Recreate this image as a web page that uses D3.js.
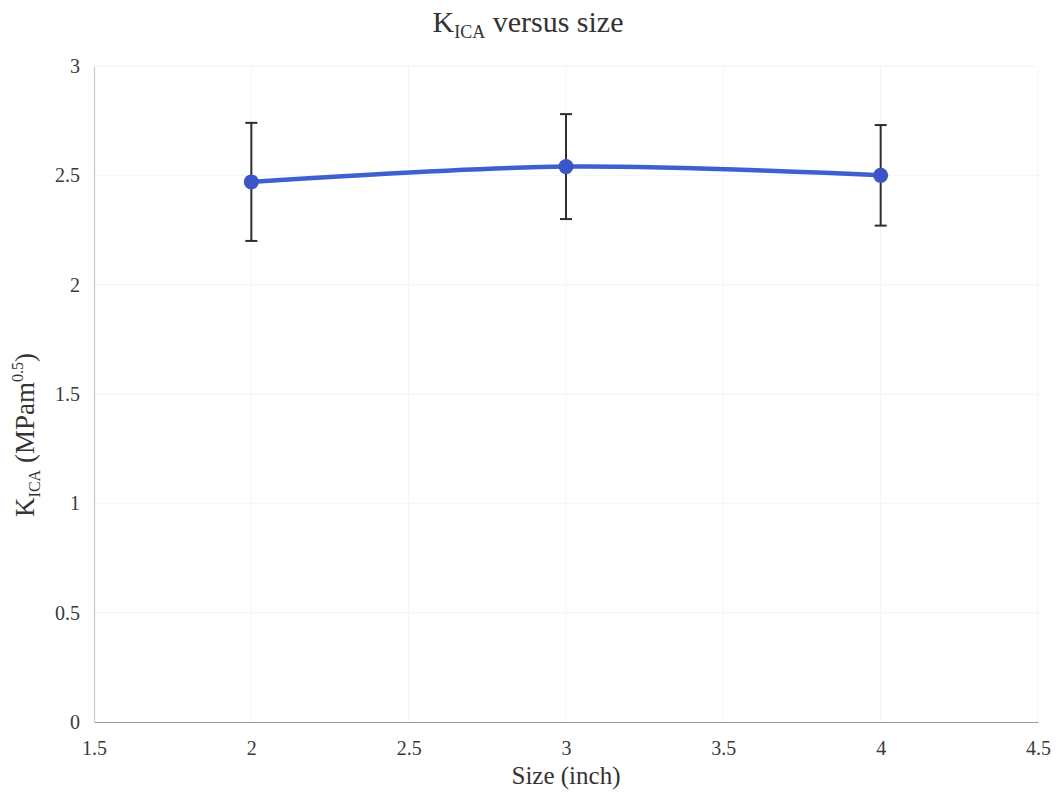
<!DOCTYPE html>
<html>
<head>
<meta charset="utf-8">
<script src="https://cdn.jsdelivr.net/npm/d3@7"></script>
<style>
  html, body { margin: 0; padding: 0; background: #fff; }
  svg { display: block; }
  svg text { font-family: "Liberation Serif", "DejaVu Serif", serif !important; }
</style>
</head>
<body>
<svg id="chart" width="1063" height="798"></svg>
<script>
// Specimen size (inch) and mean apparent fracture toughness with spread
const sizes = [2, 3, 4];
const kMean = [2.47, 2.54, 2.50];
const kErr = [0.27, 0.24, 0.23];
const xTicks = [1.5, 2, 2.5, 3, 3.5, 4, 4.5];
const yTicks = [0, 0.5, 1, 1.5, 2, 2.5, 3];

const svg = d3.select("#chart");
const plot = { left: 94, right: 1038, top: 66, bottom: 722 };

const x = d3.scaleLinear().domain([1.5, 4.5]).range([plot.left, plot.right]);
const y = d3.scaleLinear().domain([0, 3]).range([plot.bottom, plot.top]);

// faint gridlines
svg.append("g")
  .selectAll("line")
  .data(xTicks.slice(1))
  .join("line")
  .attr("x1", d => x(d)).attr("x2", d => x(d))
  .attr("y1", plot.top).attr("y2", plot.bottom)
  .attr("stroke", "#f3f4f7").attr("stroke-width", 1);
svg.append("g")
  .selectAll("line")
  .data(yTicks.slice(1))
  .join("line")
  .attr("x1", plot.left).attr("x2", plot.right)
  .attr("y1", d => y(d)).attr("y2", d => y(d))
  .attr("stroke", "#f3f4f7").attr("stroke-width", 1);

// axes
const xAxis = d3.axisBottom(x).tickValues(xTicks).tickSize(0).tickPadding(19)
  .tickFormat(d3.format("~g"));
const yAxis = d3.axisLeft(y).tickValues(yTicks).tickSize(0).tickPadding(14)
  .tickFormat(d3.format("~g"));

const gx = svg.append("g").attr("transform", `translate(0,${plot.bottom})`).call(xAxis);
gx.select(".domain").attr("stroke", "#9a9a9a").attr("stroke-width", 1.2);
gx.selectAll("text").attr("font-size", 20).attr("fill", "#3a3a3a");

const gy = svg.append("g").attr("transform", `translate(${plot.left},0)`).call(yAxis);
gy.select(".domain").attr("stroke", "#c3cad6").attr("stroke-width", 1.2);
gy.selectAll("text").attr("font-size", 20).attr("fill", "#3a3a3a");

// error bars
const pts = sizes.map((s, i) => ({ s, m: kMean[i], e: kErr[i] }));
const eb = svg.append("g").attr("stroke", "#2e2e2e").attr("stroke-width", 2);
eb.selectAll("line.bar").data(pts).join("line").attr("class", "bar")
  .attr("x1", d => x(d.s)).attr("x2", d => x(d.s))
  .attr("y1", d => y(d.m + d.e)).attr("y2", d => y(d.m - d.e));
eb.selectAll("line.capT").data(pts).join("line").attr("class", "capT")
  .attr("x1", d => x(d.s) - 6).attr("x2", d => x(d.s) + 6)
  .attr("y1", d => y(d.m + d.e)).attr("y2", d => y(d.m + d.e));
eb.selectAll("line.capB").data(pts).join("line").attr("class", "capB")
  .attr("x1", d => x(d.s) - 6).attr("x2", d => x(d.s) + 6)
  .attr("y1", d => y(d.m - d.e)).attr("y2", d => y(d.m - d.e));

// smoothed series line
const line = d3.line().x(d => x(d.s)).y(d => y(d.m)).curve(d3.curveCatmullRom.alpha(0.5));
svg.append("path").datum(pts)
  .attr("d", line)
  .attr("fill", "none")
  .attr("stroke", "#3f5fcf")
  .attr("stroke-width", 4.5);

svg.append("g").selectAll("circle").data(pts).join("circle")
  .attr("cx", d => x(d.s)).attr("cy", d => y(d.m)).attr("r", 7.5)
  .attr("fill", "#3b55c9");

// title
const title = svg.append("text")
  .attr("x", 528).attr("y", 32)
  .attr("text-anchor", "middle")
  .attr("font-size", 30).attr("fill", "#333");
title.append("tspan").text("K");
title.append("tspan").attr("font-size", 18).attr("dy", 6).text("ICA");
title.append("tspan").attr("dy", -6).text(" versus size");

// x-axis title
svg.append("text")
  .attr("x", 566).attr("y", 784)
  .attr("text-anchor", "middle")
  .attr("font-size", 25).attr("fill", "#333")
  .text("Size (inch)");

// y-axis title
const yt = svg.append("text")
  .attr("transform", "translate(34,435) rotate(-90)")
  .attr("text-anchor", "middle")
  .attr("font-size", 27).attr("fill", "#333");
yt.append("tspan").text("K");
yt.append("tspan").attr("font-size", 16).attr("dy", 6).text("ICA");
yt.append("tspan").attr("dy", -6).text(" (MPam");
yt.append("tspan").attr("font-size", 16).attr("dy", -11).text("0.5");
yt.append("tspan").attr("dy", 11).text(")");
</script>
</body>
</html>
